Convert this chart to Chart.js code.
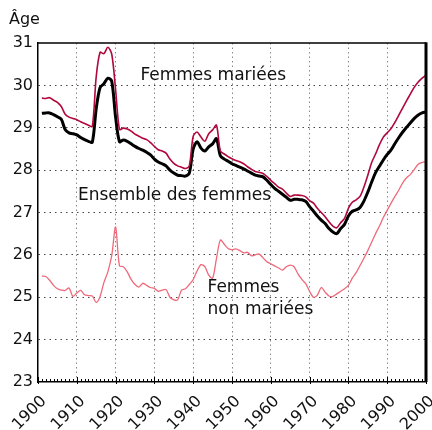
<!DOCTYPE html>
<html>
<head>
<meta charset="utf-8">
<script src="https://cdn.jsdelivr.net/npm/chart.js@4"></script>
<style>
html,body{margin:0;padding:0;background:#fff;}
#wrap{width:432px;height:430px;position:relative;}
</style>
</head>
<body>
<div id="wrap"><canvas id="c" width="432" height="430"></canvas></div>
<script>
const years = [];
for (let y = 1901; y <= 2000; y++) years.push(y);

const mariees = [
29.70,29.69,29.71,29.65,29.60,29.50,29.32,29.25,29.22,29.19,
29.14,29.10,29.06,29.03,30.20,30.78,30.75,30.90,30.74,29.90,
28.96,28.99,28.97,28.92,28.85,28.80,28.75,28.72,28.65,28.56,
28.48,28.45,28.40,28.26,28.16,28.10,28.07,28.04,28.10,28.80,
28.90,28.78,28.68,28.86,28.95,29.06,28.45,28.38,28.32,28.27,
28.23,28.20,28.15,28.08,28.02,27.97,27.95,27.92,27.85,27.76,
27.68,27.60,27.55,27.46,27.38,27.41,27.41,27.40,27.37,27.28,
27.22,27.10,27.00,26.90,26.78,26.68,26.64,26.76,26.86,27.10,
27.24,27.30,27.38,27.60,27.88,28.18,28.38,28.60,28.78,28.88,
28.98,29.13,29.30,29.47,29.64,29.80,29.96,30.08,30.17,30.24
];

const ensemble = [
29.34,29.35,29.35,29.31,29.26,29.20,28.96,28.88,28.86,28.83,
28.77,28.72,28.68,28.66,29.45,29.95,30.04,30.17,30.10,29.25,
28.67,28.71,28.68,28.62,28.56,28.51,28.47,28.42,28.36,28.26,
28.19,28.15,28.10,28.00,27.93,27.88,27.87,27.86,27.93,28.50,
28.67,28.52,28.45,28.55,28.62,28.74,28.34,28.26,28.21,28.15,
28.11,28.07,28.03,27.98,27.93,27.88,27.86,27.84,27.76,27.66,
27.57,27.50,27.43,27.36,27.29,27.31,27.31,27.30,27.26,27.14,
27.03,26.92,26.82,26.74,26.62,26.54,26.50,26.62,26.72,26.92,
27.03,27.06,27.12,27.27,27.48,27.72,27.94,28.09,28.24,28.37,
28.48,28.63,28.77,28.90,29.01,29.12,29.22,29.30,29.35,29.37
];

const nonMariees = [
25.50,25.49,25.40,25.28,25.20,25.17,25.16,25.22,25.02,25.10,
25.16,25.06,25.04,25.03,24.88,25.02,25.35,25.60,25.98,26.66,
25.74,25.72,25.60,25.42,25.30,25.24,25.33,25.28,25.23,25.21,
25.14,25.17,25.18,25.00,24.94,24.94,25.17,25.20,25.30,25.42,
25.62,25.77,25.72,25.52,25.45,25.92,26.35,26.25,26.15,26.12,
26.14,26.10,26.05,26.06,25.98,26.00,26.02,25.93,25.84,25.79,
25.74,25.69,25.64,25.72,25.76,25.72,25.55,25.42,25.32,25.14,
25.00,25.05,25.23,25.12,25.03,25.02,25.08,25.14,25.20,25.28,
25.45,25.58,25.75,25.92,26.10,26.30,26.50,26.68,26.88,27.05,
27.22,27.38,27.53,27.70,27.82,27.90,28.02,28.14,28.18,28.20
];

const xTickLabels = [1900,1910,1920,1930,1940,1950,1960,1970,1980,1990,2000];
const yTickLabels = [23,24,25,26,27,28,29,30,31];
const yAxisTitle = 'Âge';
const annotations = [
  {text:'Femmes mariées', year:1926.4, value:30.24},
  {text:'Ensemble des femmes', year:1910.3, value:27.41},
  {text:'Femmes', year:1943.7, value:25.22},
  {text:'non mariées', year:1943.7, value:24.70}
];

const FONT = '"DejaVu Sans", Verdana, sans-serif';
const toPts = arr => arr.map((v,i)=>({x:years[i], y:v}));

const decorPlugin = {
  id:'decor',
  afterDraw(chart){
    const {ctx, chartArea:a, scales} = chart;
    ctx.save();
    ctx.strokeStyle = '#000';
    ctx.lineWidth = 1.5;
    ctx.beginPath();
    ctx.moveTo(a.left, a.top); ctx.lineTo(a.right, a.top);
    ctx.stroke();
    ctx.lineWidth = 3;
    ctx.beginPath();
    ctx.moveTo(a.right, a.top-0.75); ctx.lineTo(a.right, a.bottom);
    ctx.stroke();
    // inward minor ticks on the x axis (one per year, longer per decade)
    ctx.lineWidth = 1;
    ctx.beginPath();
    scales.x.ticks.forEach(t=>{
      const px = Math.round(scales.x.getPixelForValue(t.value)) + 0.5;
      const major = t.value % 10 === 0;
      ctx.moveTo(px, a.bottom + (major ? 2 : 0));
      ctx.lineTo(px, a.bottom - (major ? 5 : 3));
    });
    ctx.stroke();
    ctx.fillStyle = '#111';
    ctx.font = '16px ' + FONT;
    ctx.textBaseline = 'middle';
    ctx.textAlign = 'left';
    ctx.fillText(yAxisTitle, 9, 20);
    ctx.font = '17px ' + FONT;
    annotations.forEach(an=>{
      ctx.fillText(an.text, scales.x.getPixelForValue(an.year), scales.y.getPixelForValue(an.value));
    });
    ctx.restore();
  }
};

new Chart(document.getElementById('c'), {
  type:'line',
  data:{
    datasets:[
      {label:'Femmes non mariées', data:toPts(nonMariees), borderColor:'#ee6a7a', borderWidth:1.3, pointRadius:0, tension:0.3, fill:false},
      {label:'Femmes mariées', data:toPts(mariees), borderColor:'#b0083c', borderWidth:1.6, pointRadius:0, tension:0.3, fill:false},
      {label:'Ensemble des femmes', data:toPts(ensemble), borderColor:'#000', borderWidth:3, pointRadius:0, tension:0.3, fill:false}
    ]
  },
  options:{
    responsive:false,
    animation:false,
    events:[],
    layout:{padding:{top:43, right:6, left:0, bottom:0}},
    plugins:{legend:{display:false}, tooltip:{enabled:false}},
    scales:{
      x:{
        type:'linear', min:1900, max:2000,
        afterFit(s){ s.height = 48; s.paddingRight = 0; s.paddingLeft = 0; },
        ticks:{
          stepSize:1, autoSkip:false, maxTicksLimit:200,
          minRotation:45, maxRotation:45,
          font:{family:FONT, size:16}, color:'#111', padding:10, labelOffset:6,
          callback:v => xTickLabels.includes(v) ? String(v) : ''
        },
        grid:{
          color: c => (c.tick && c.tick.value % 10 === 0 && c.tick.value > 1900 && c.tick.value < 2000) ? '#888' : 'rgba(0,0,0,0)',
          lineWidth:1, drawTicks:false
        },
        border:{display:true, color:'#000', width:1.5, dash:[1.5,3]}
      },
      y:{
        type:'linear', min:23, max:31,
        afterFit(s){ s.width = 38; s.paddingTop = 0; s.paddingBottom = 0; },
        ticks:{
          stepSize:1, font:{family:FONT, size:16}, color:'#111', padding:5,
          callback:v => yTickLabels.includes(v) ? String(v) : ''
        },
        grid:{
          color: c => (c.tick && c.tick.value > 23 && c.tick.value < 31) ? '#444' : 'rgba(0,0,0,0)',
          lineWidth:1, drawTicks:false
        },
        border:{display:true, color:'#000', width:1.5, dash:[1.5,4]}
      }
    }
  },
  plugins:[decorPlugin]
});
</script>
</body>
</html>
